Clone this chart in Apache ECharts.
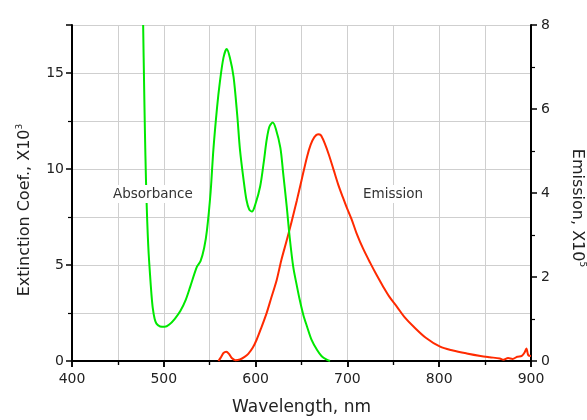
<!DOCTYPE html>
<html>
<head>
<meta charset="utf-8">
<script src="https://cdn.jsdelivr.net/npm/echarts@6/dist/echarts.min.js"></script>
<style>
  html, body { margin: 0; padding: 0; background: #fff; }
  #chart { width: 587px; height: 420px; }
</style>
</head>
<body>
<div id="chart"></div>
<script>
// absorbance, extinction coef. (x10^3)
const absNm = [477.5, 478.5, 479.5, 480.5, 481.5, 482.5, 483.5, 485, 486.5, 488, 490, 492, 496, 501, 506, 512, 518, 524, 529, 536, 540, 544, 547, 551, 554, 558, 561, 565, 568.5, 572, 576, 580, 583, 587, 590, 593, 596, 600, 605, 609, 612, 615, 618.6, 622, 627, 630, 634, 637, 641, 645, 648, 652, 656, 661, 667, 672, 677, 681]
const absVal = [17.5, 14.5, 11.8, 9.6, 7.9, 6.6, 5.6, 4.5, 3.5, 2.75, 2.2, 1.95, 1.8, 1.78, 1.9, 2.2, 2.6, 3.2, 3.9, 4.9, 5.2, 5.9, 6.8, 8.8, 11.0, 13.2, 14.5, 15.8, 16.25, 15.8, 14.8, 12.8, 11.0, 9.4, 8.4, 7.9, 7.78, 8.2, 9.1, 10.4, 11.5, 12.2, 12.42, 12.1, 11.1, 9.8, 8.0, 6.5, 4.9, 3.9, 3.2, 2.4, 1.8, 1.1, 0.57, 0.25, 0.08, 0]

// emission (x10^5)
const emNm = [559.5, 562, 565, 568, 571, 574, 578, 583, 588, 592, 597, 601, 606, 612, 617, 623, 628, 634, 639, 645, 650, 656, 660, 664, 668, 671, 675, 680, 685, 690, 695, 699, 705, 710, 717, 725, 732, 739, 746, 754, 762, 772, 785, 801, 815, 830, 845, 855, 866, 870, 875, 880, 885, 890, 893, 895, 897, 900]
const emVal = [0, 0.08, 0.19, 0.22, 0.17, 0.07, 0.02, 0.04, 0.1, 0.17, 0.32, 0.5, 0.78, 1.14, 1.5, 1.93, 2.4, 2.88, 3.3, 3.83, 4.3, 4.86, 5.15, 5.33, 5.4, 5.38, 5.2, 4.9, 4.55, 4.2, 3.9, 3.67, 3.35, 3.04, 2.68, 2.33, 2.04, 1.77, 1.52, 1.29, 1.05, 0.82, 0.56, 0.34, 0.25, 0.18, 0.12, 0.09, 0.06, 0.03, 0.07, 0.05, 0.1, 0.12, 0.2, 0.3, 0.14, 0.12]

const font = 'DejaVu Sans'
const axisBlack = { lineStyle: { color: '#000', width: 2 } }

const chart = echarts.init(document.getElementById('chart'))
chart.setOption({
  animation: false,
  textStyle: { fontFamily: font },
  grid: { left: 72, right: 56, top: 25, bottom: 59, outerBoundsMode: 'none' },
  xAxis: [
    {
      type: 'value',
      min: 400,
      max: 900,
      interval: 100,
      name: 'Wavelength, nm',
      nameLocation: 'middle',
      nameGap: 38,
      nameTextStyle: { fontSize: 17, color: '#222' },
      axisLine: axisBlack,
      axisTick: { length: 6, lineStyle: { color: '#000', width: 1.5 } },
      minorTick: { show: true, splitNumber: 2, length: 4, lineStyle: { color: '#000', width: 1.2 } },
      axisLabel: { fontSize: 14, color: '#222', margin: 11 },
      splitLine: { show: true, lineStyle: { color: '#cfcfcf', width: 1 } },
      minorSplitLine: { show: true, lineStyle: { color: '#cfcfcf', width: 1 } }
    },
    {
      type: 'value',
      position: 'top',
      min: 400,
      max: 900,
      interval: 100,
      axisLine: axisBlack,
      axisTick: { inside: true, length: 6, lineStyle: { color: '#000', width: 1.5 } },
      minorTick: { show: true, splitNumber: 2, length: 4, lineStyle: { color: '#000', width: 1.2 } },
      axisLabel: { show: false },
      splitLine: { show: false }
    }
  ],
  yAxis: [
    {
      type: 'value',
      min: 0,
      max: 17.5,
      interval: 5,
      name: 'Extinction Coef., X10{sup|3}',
      nameLocation: 'middle',
      nameGap: 38,
      nameRotate: 90,
      nameTextStyle: {
        fontSize: 16,
        color: '#222',
        padding: [0, 34, 0, 0],
        rich: { sup: { fontSize: 9, color: '#222', verticalAlign: 'top', padding: [0, 0, 10, 0] } }
      },
      axisLine: { show: true, lineStyle: { color: '#000', width: 2 } },
      axisTick: { show: true, length: 6, lineStyle: { color: '#000', width: 1.5 } },
      minorTick: { show: true, splitNumber: 2, length: 4, lineStyle: { color: '#000', width: 1.2 } },
      axisLabel: { fontSize: 14, color: '#222', margin: 8, showMaxLabel: false },
      splitLine: { show: true, lineStyle: { color: '#cfcfcf', width: 1 } },
      minorSplitLine: { show: true, lineStyle: { color: '#cfcfcf', width: 1 } }
    },
    {
      type: 'value',
      position: 'right',
      min: 0,
      max: 8,
      interval: 2,
      name: 'Emission, X10{sup|5}',
      nameLocation: 'middle',
      nameGap: 37,
      nameRotate: -90,
      nameTextStyle: {
        fontSize: 16,
        color: '#222',
        padding: [0, 0, 0, 30],
        rich: { sup: { fontSize: 9, color: '#222', verticalAlign: 'top', padding: [0, 0, 10, 0] } }
      },
      axisLine: { show: true, lineStyle: { color: '#000', width: 2 } },
      axisTick: { show: true, length: 6, lineStyle: { color: '#000', width: 1.5 } },
      minorTick: { show: true, splitNumber: 2, length: 4, lineStyle: { color: '#000', width: 1.2 } },
      axisLabel: { fontSize: 14, color: '#222', margin: 10 },
      splitLine: { show: false }
    }
  ],
  series: [
    {
      name: 'Absorbance',
      type: 'line',
      xAxisIndex: 0,
      yAxisIndex: 0,
      data: absNm.map((x, i) => [x, absVal[i]]),
      smooth: 0.3,
      showSymbol: false,
      clip: true,
      lineStyle: { color: '#00e800', width: 2 },
      z: 3
    },
    {
      name: 'Emission',
      type: 'line',
      xAxisIndex: 0,
      yAxisIndex: 1,
      data: emNm.map((x, i) => [x, emVal[i]]),
      smooth: 0.3,
      showSymbol: false,
      clip: true,
      lineStyle: { color: '#ff2a00', width: 2 },
      z: 2
    }
  ],
  graphic: [
    {
      type: 'text',
      left: 112,
      top: 185,
      z: 100,
      style: {
        text: 'Absorbance',
        font: '13.5px "DejaVu Sans"',
        fill: '#333',
        backgroundColor: '#fff',
        padding: [2, 1, 2, 1]
      }
    },
    {
      type: 'text',
      left: 362,
      top: 185,
      z: 100,
      style: {
        text: 'Emission',
        font: '13.5px "DejaVu Sans"',
        fill: '#333',
        backgroundColor: '#fff',
        padding: [2, 1, 2, 1]
      }
    }
  ]
})
</script>
</body>
</html>
